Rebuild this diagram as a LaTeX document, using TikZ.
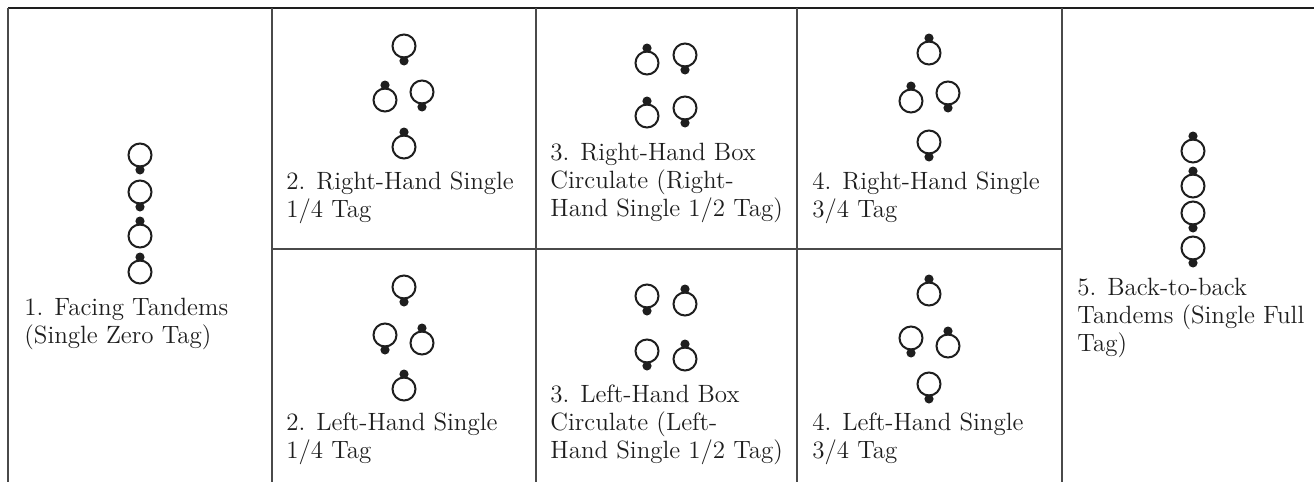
\documentclass[tikz,border=0pt]{standalone}
\usepackage{tikz}
\usetikzlibrary{positioning}
\definecolor{tagink}{HTML}{1E1E1E}
\definecolor{tagrule}{HTML}{4A4A4A}

\begin{document}
\begin{tikzpicture}[
  x=0.5pt,y=-0.5pt,
  font=\fontsize{12.5}{14}\selectfont,
  dancer/.style={circle,draw=tagink,line width=1pt,minimum size=11.5pt,inner sep=0pt,outer sep=0pt},
  nose/.style={circle,fill=tagink,inner sep=0pt,outer sep=0pt,minimum size=4.6pt},
  faceup/.style={dancer,label={[nose,label distance=-0.6pt]above:{}}},
  facedown/.style={dancer,label={[nose,label distance=-0.6pt]below:{}}},
  caption/.style={anchor=north west,align=left,inner sep=0pt,text=tagink},
  rule/.style={draw=tagrule,line width=0.75pt},
]
\fill[white] (0,0) rectangle (1314,482);
\useasboundingbox (0,0) rectangle (1314,482);
\draw[rule,draw=tagink,line width=1pt] (8,8) -- (1314,8);
\foreach \x in {8,272,536,797,1062} \draw[rule] (\x,8) -- (\x,482);
\draw[rule] (272,249) -- (1062,249);

\node[facedown] (ft1) at (140,155) {};
\node[facedown] (ft2) at (140,192) {};
\node[faceup] (ft3) at (140,236) {};
\node[faceup] (ft4) at (140,272) {};
\node[caption] (facing) at (24,298) {1. Facing Tandems\\(Single Zero Tag)};

\node[facedown] (rq1) at (404,46) {};
\node[faceup] (rq2) at (385,100) {};
\node[facedown] (rq3) at (422,92) {};
\node[faceup] (rq4) at (404,147) {};
\node[caption] (rquarter) at (286,171) {2. Right-Hand Single\\1/4 Tag};

\node[facedown] (lq1) at (404,287) {};
\node[facedown] (lq2) at (385,335) {};
\node[faceup] (lq3) at (422,343) {};
\node[faceup] (lq4) at (404,389) {};
\node[caption] (lquarter) at (286,412) {2. Left-Hand Single\\1/4 Tag};

\node[faceup] (rb1) at (647,63) {};
\node[facedown] (rb2) at (685,55) {};
\node[faceup] (rb3) at (647,116) {};
\node[facedown] (rb4) at (685,108) {};
\node[caption] (rbox) at (550,143) {3. Right-Hand Box\\Circulate (Right-\\Hand Single 1/2 Tag)};

\node[facedown] (lb1) at (647,296) {};
\node[faceup] (lb2) at (685,304) {};
\node[facedown] (lb3) at (647,351) {};
\node[faceup] (lb4) at (685,359) {};
\node[caption] (lbox) at (550,384) {3. Left-Hand Box\\Circulate (Left-\\Hand Single 1/2 Tag)};

\node[faceup] (rt1) at (929,53) {};
\node[faceup] (rt2) at (911,101) {};
\node[facedown] (rt3) at (948,93) {};
\node[facedown] (rt4) at (929,142) {};
\node[caption] (rthree) at (812,171) {4. Right-Hand Single\\3/4 Tag};

\node[faceup] (lt1) at (929,294) {};
\node[facedown] (lt2) at (911,338) {};
\node[faceup] (lt3) at (948,346) {};
\node[facedown] (lt4) at (929,384) {};
\node[caption] (lthree) at (812,412) {4. Left-Hand Single\\3/4 Tag};

\node[faceup] (bb1) at (1193,151) {};
\node[faceup] (bb2) at (1193,186) {};
\node[facedown] (bb3) at (1193,213) {};
\node[facedown] (bb4) at (1193,248) {};
\node[caption] (backtoback) at (1077,278) {5. Back-to-back\\Tandems (Single Full\\Tag)};
\end{tikzpicture}
\end{document}
